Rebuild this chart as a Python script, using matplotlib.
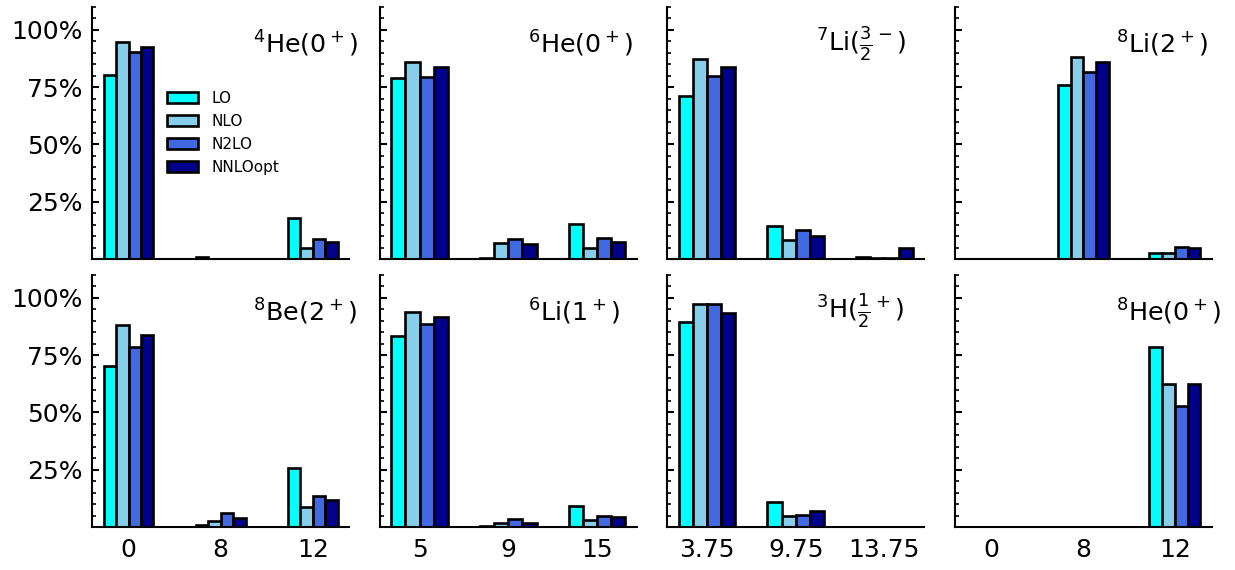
import matplotlib
matplotlib.use("Agg")
import matplotlib.pyplot as plt
from matplotlib.ticker import MultipleLocator, FixedLocator, PercentFormatter
import numpy as np

plt.rcParams['font.family'] = ['DejaVu Sans']

series_names = ["LO", "NLO", "N2LO", "NNLOopt"]
series_colors = ["#00FFFF", "#87CEEB", "#4169E1", "#00008B"]

panel_titles = [r"$^{4}\mathrm{He}(0^+)$", r"$^{6}\mathrm{He}(0^+)$",
                r"$^{7}\mathrm{Li}(\frac{3}{2}^-)$", r"$^{8}\mathrm{Li}(2^+)$",
                r"$^{8}\mathrm{Be}(2^+)$", r"$^{6}\mathrm{Li}(1^+)$",
                r"$^{3}\mathrm{H}(\frac{1}{2}^+)$", r"$^{8}\mathrm{He}(0^+)$"]

col_tick_labels = [["0", "8", "12"], ["5", "9", "15"],
                   ["3.75", "9.75", "13.75"], ["0", "8", "12"]]

# values[panel][series][group]
he4 = [[0.803, 0.007, 0.178], [0.946, 0.002, 0.047], [0.905, 0.002, 0.087], [0.927, 0.002, 0.073]]
he6 = [[0.789, 0.005, 0.151], [0.862, 0.068, 0.049], [0.796, 0.087, 0.090], [0.840, 0.065, 0.074]]
li7 = [[0.713, 0.144, 0.007], [0.872, 0.083, 0.003], [0.799, 0.127, 0.005], [0.840, 0.102, 0.048]]
li8 = [[0.0, 0.761, 0.025], [0.0, 0.882, 0.028], [0.0, 0.818, 0.051], [0.0, 0.862, 0.047]]
be8 = [[0.701, 0.010, 0.257], [0.880, 0.026, 0.088], [0.785, 0.061, 0.134], [0.839, 0.038, 0.120]]
li6 = [[0.832, 0.004, 0.092], [0.937, 0.018, 0.029], [0.886, 0.036, 0.048], [0.915, 0.017, 0.042]]
h3 = [[0.893, 0.109, 0.0], [0.975, 0.048, 0.0], [0.975, 0.051, 0.0], [0.934, 0.070, 0.0]]
he8 = [[0.0, 0.0, 0.785], [0.0, 0.0, 0.625], [0.0, 0.0, 0.526], [0.0, 0.0, 0.623]]
panel_values = [he4, he6, li7, li8, be8, li6, h3, he8]

# style / layout
col_bar_width = [0.135, 0.16, 0.16, 0.139]
col_title_x = [0.625, 0.578, 0.58, 0.628]

fig, axes = plt.subplots(2, 4, figsize=(12.35, 5.70), dpi=100, sharey=True)
fig.subplots_adjust(left=92/1235, right=1212/1235, top=1-7/570, bottom=1-527/570,
                    wspace=0.117, hspace=0.063)

for i, ax in enumerate(axes.flat):
    r, c = divmod(i, 4)
    w = col_bar_width[c]
    vals = panel_values[i]
    x = np.arange(3)
    for s in range(4):
        ax.bar(x + (s - 1.5) * w, vals[s], width=w, color=series_colors[s],
               edgecolor="black", linewidth=1.9, label=series_names[s], zorder=2)
    ax.set_ylim(0, 1.1)
    ax.yaxis.set_major_locator(FixedLocator([0.25, 0.5, 0.75, 1.0]))
    ax.yaxis.set_minor_locator(MultipleLocator(0.05))
    ax.yaxis.set_major_formatter(PercentFormatter(1.0, decimals=0))
    ax.set_xticks(x)
    if r == 1:
        ax.set_xticklabels(col_tick_labels[c])
    else:
        ax.set_xticklabels([])
    for sp in ["top", "right"]:
        ax.spines[sp].set_visible(False)
    for sp in ["left", "bottom"]:
        ax.spines[sp].set_linewidth(1.5)
    ax.tick_params(axis="y", which="major", direction="in", length=5, width=1.5,
                   labelsize=18, pad=7)
    ax.tick_params(axis="y", which="minor", direction="in", length=3, width=1.2)
    ax.tick_params(axis="x", which="both", length=0, labelsize=18, pad=8)
    if c != 0:
        ax.tick_params(axis="y", labelleft=False)
    ax.text(col_title_x[c], 0.855, panel_titles[i], transform=ax.transAxes,
            ha="left", va="center", fontsize=18.3)

axes[0, 0].legend(loc="center left", bbox_to_anchor=(0.268, 0.5), frameon=False,
                  fontsize=11, borderaxespad=0, handlelength=2.0, handleheight=0.7,
                  labelspacing=0.52, handletextpad=0.9)

fig.savefig("out.png", dpi=100)
